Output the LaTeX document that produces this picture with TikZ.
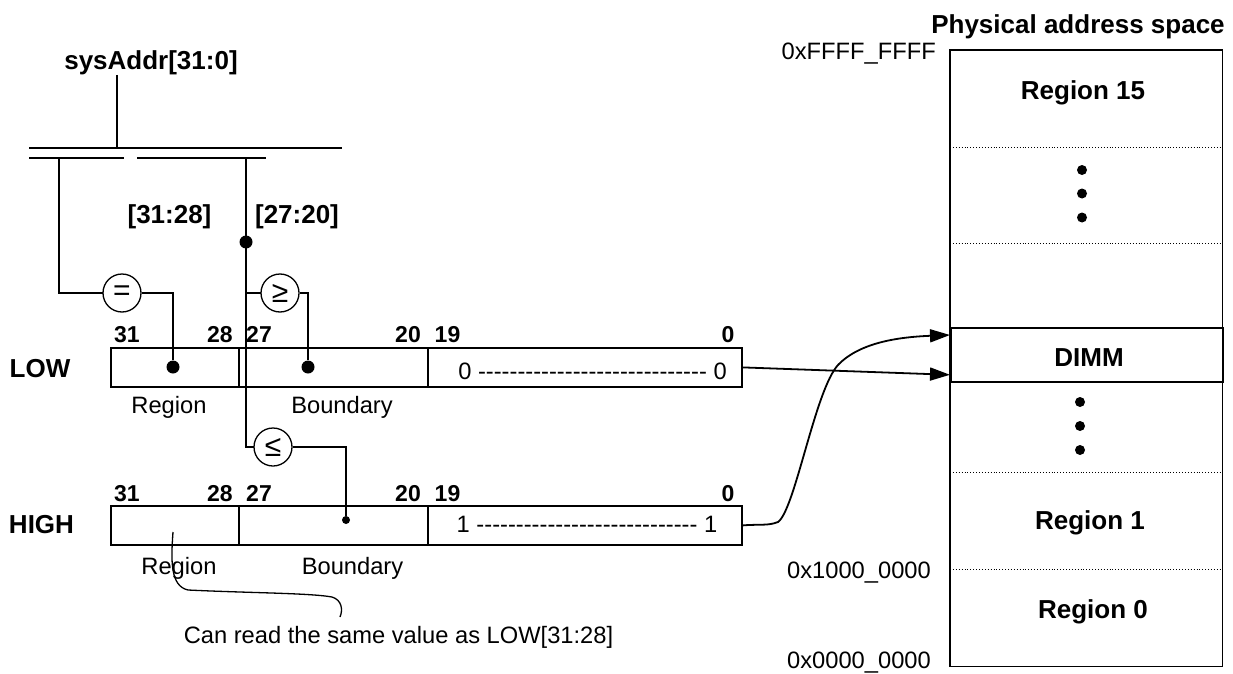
\documentclass[tikz,border=0pt]{standalone}
\usepackage{fontspec}
\setmainfont{Liberation Sans}
\usetikzlibrary{arrows.meta}

% a run of plain hyphens (kept apart so no dash ligatures form)
\newcount\hycount
\newcommand{\hyphenrun}[1]{\hycount=0 \loop\ifnum\hycount<#1 -{}\advance\hycount by 1 \repeat}

\begin{document}
\begin{tikzpicture}[x=1pt,y=-1pt,
  wire/.style={line width=1.8pt},
  note/.style={line width=1.3pt},
  field/.style={draw, line width=1.8pt, rectangle, inner sep=0pt, anchor=north west, minimum height=39pt},
  area/.style={rectangle, inner sep=0pt, anchor=north west, minimum width=272pt},
  cmp/.style={draw, fill=white, circle, line width=1.3pt, minimum size=38pt, inner sep=0pt,
              font=\fontsize{30}{30}\selectfont},
  txt/.style={anchor=base, inner sep=0pt, font=\fontsize{23.7}{28}\selectfont},
  btxt/.style={anchor=base, inner sep=0pt, font=\bfseries\fontsize{26}{30}\selectfont},
  bitno/.style={anchor=base, inner sep=0pt, font=\bfseries\fontsize{23}{27}\selectfont},
  joint/.style={fill, circle, inner sep=0pt, minimum size=13pt},
  smalljoint/.style={fill, circle, inner sep=0pt, minimum size=8pt},
  bullet/.style={fill, circle, inner sep=0pt, minimum size=10pt},
  sep/.style={line width=0.9pt, dotted},
  arrowto/.style={-{Triangle[length=20pt,width=13pt]}}
]
\useasboundingbox (0,0) rectangle (1233,674);

% ---------- address bus ----------
\node[btxt] (sys) at (151,69.3) {sysAddr[31:0]};
\coordinate (busin) at (117,148);
\coordinate (busL) at (29,148);
\coordinate (busR) at (342,148);
\coordinate (subAL) at (29,158);
\coordinate (subAR) at (124,158);
\coordinate (subBL) at (137,158);
\coordinate (subBR) at (266,158);
\coordinate (tapR) at (59,158);
\coordinate (tapB) at (246,158);
\draw[wire] (sys.south -| busin) -- (busin);
\draw[wire] (busL) -- (busR);
\draw[wire] (subAL) -- (subAR);
\draw[wire] (subBL) -- (subBR);
\node[btxt] (slA) at (169.5,223) {[31:28]};
\node[btxt] (slB) at (297,223) {[27:20]};

% ---------- LOW register ----------
\node[btxt] (lowlbl) at (40,377) {LOW};
\node[field, minimum width=128pt] (lowR) at (110,347) {};
\node[field, minimum width=189pt] (lowB) at (238,347) {};
\node[field, minimum width=314pt] (lowZ) at (427,347) {};
\node[bitno] at (127,342) {31};
\node[bitno] at (220,342) {28};
\node[bitno] at (259,342) {27};
\node[bitno] at (408,342) {20};
\node[bitno] at (447.5,342) {19};
\node[bitno] at (728,342) {0};
\node[txt] (lowbits) at (592.5,379) {0 \hyphenrun{29} 0};
\node[txt] at (169,413.5) {Region};
\node[txt] at (342,413.5) {Boundary};

% ---------- HIGH register ----------
\node[btxt] (highlbl) at (41.5,533) {HIGH};
\node[field, minimum width=128pt] (highR) at (110,505) {};
\node[field, minimum width=189pt] (highB) at (238,505) {};
\node[field, minimum width=314pt] (highZ) at (427,505) {};
\node[bitno] at (127,501.7) {31};
\node[bitno] at (220,501.7) {28};
\node[bitno] at (259,501.7) {27};
\node[bitno] at (408,501.7) {20};
\node[bitno] at (447.5,501.7) {19};
\node[bitno] at (728,501.7) {0};
\node[txt] (highbits) at (587,532) {1 \hyphenrun{28} 1};
\node[txt] (highRlbl) at (179,574.5) {Region};
\node[txt] at (352.5,574.5) {Boundary};

% ---------- comparators ----------
\node[joint] (jB) at (246,242) {};
\node[joint] (dR) at (173,367) {};
\node[joint] (dB) at (308,367) {};
\node[smalljoint] (dH) at (346,520) {};
\draw[wire] (tapR) |- (122,293);
\draw[wire] (tapB) |- (273,447);
\draw[wire] (jB |- 280,293) -- (280,293);
\node[cmp] (eq) at (122,293) {=};
\node[cmp] (ge) at (280,293) {≥};
\node[cmp] (le) at (273,447) {≤};
\draw[wire] (eq.east) -| (dR);
\draw[wire] (ge.east) -| (dB);
\draw[wire] (le.east) -| (dH);

% ---------- note on the HIGH region field ----------
\coordinate (noteA) at (173,532);
\coordinate (noteB) at (340,617);
\draw[note] (noteA) .. controls (171,560) and (170,586) .. (188,590)
  .. controls (250,593) and (310,593) .. (332,597)
  .. controls (342,600) and (343,610) .. (noteB);
\node[txt] (notetxt) at (398.5,643.5) {Can read the same value as LOW[31:28]};

% ---------- physical address space ----------
\node[btxt] (pastitle) at (1078,33.3) {Physical address space};
\node[area, minimum height=97pt] (r15) at (950,50) {};
\node[area, minimum height=96pt] (rdotsA) at (950,147) {};
\node[area, minimum height=84pt] (rgap) at (950,243) {};
\node[field, minimum width=272pt, minimum height=54pt] (dimm) at (950,327) {};
\node[area, minimum height=91pt] (rdotsB) at (950,381) {};
\node[area, minimum height=97pt] (r1) at (950,472) {};
\node[area, minimum height=97pt] (r0) at (950,569) {};
\draw[line width=1.8pt] (r15.north west) rectangle (r0.south east);
\draw[sep] (r15.south west) -- (r15.south east);
\draw[sep] (rdotsA.south west) -- (rdotsA.south east);
\draw[sep] (rdotsB.south west) -- (rdotsB.south east);
\draw[sep] (r1.south west) -- (r1.south east);

\node[btxt] at (1083,100) {Region 15};
\node[btxt] at (1089,366) {DIMM};
\node[btxt] at (1090,529) {Region 1};
\node[btxt] at (1093,618) {Region 0};
\node[bullet] at (1082,170) {};
\node[bullet] at (1082,193.5) {};
\node[bullet] at (1082,217.5) {};
\node[bullet] at (1080,402) {};
\node[bullet] at (1080,426) {};
\node[bullet] at (1080,450) {};

\node[txt] (aTop) at (858.7,60) {0xFFFF\_FFFF};
\node[txt] (aMid) at (859,578) {0x1000\_0000};
\node[txt] (aBot) at (859,668.5) {0x0000\_0000};

% ---------- mapping arrows ----------
\draw[wire, arrowto] (lowZ.east) -- ([yshift=8pt]dimm.south west);
\draw[wire, arrowto] (highZ.east) .. controls (760,524) and (768,526) .. (778,522)
  .. controls (795,510) and (815,390) .. (838,365)
  .. controls (860,342) and (900,337) .. ([yshift=-8pt]dimm.north west);
\end{tikzpicture}
\end{document}
